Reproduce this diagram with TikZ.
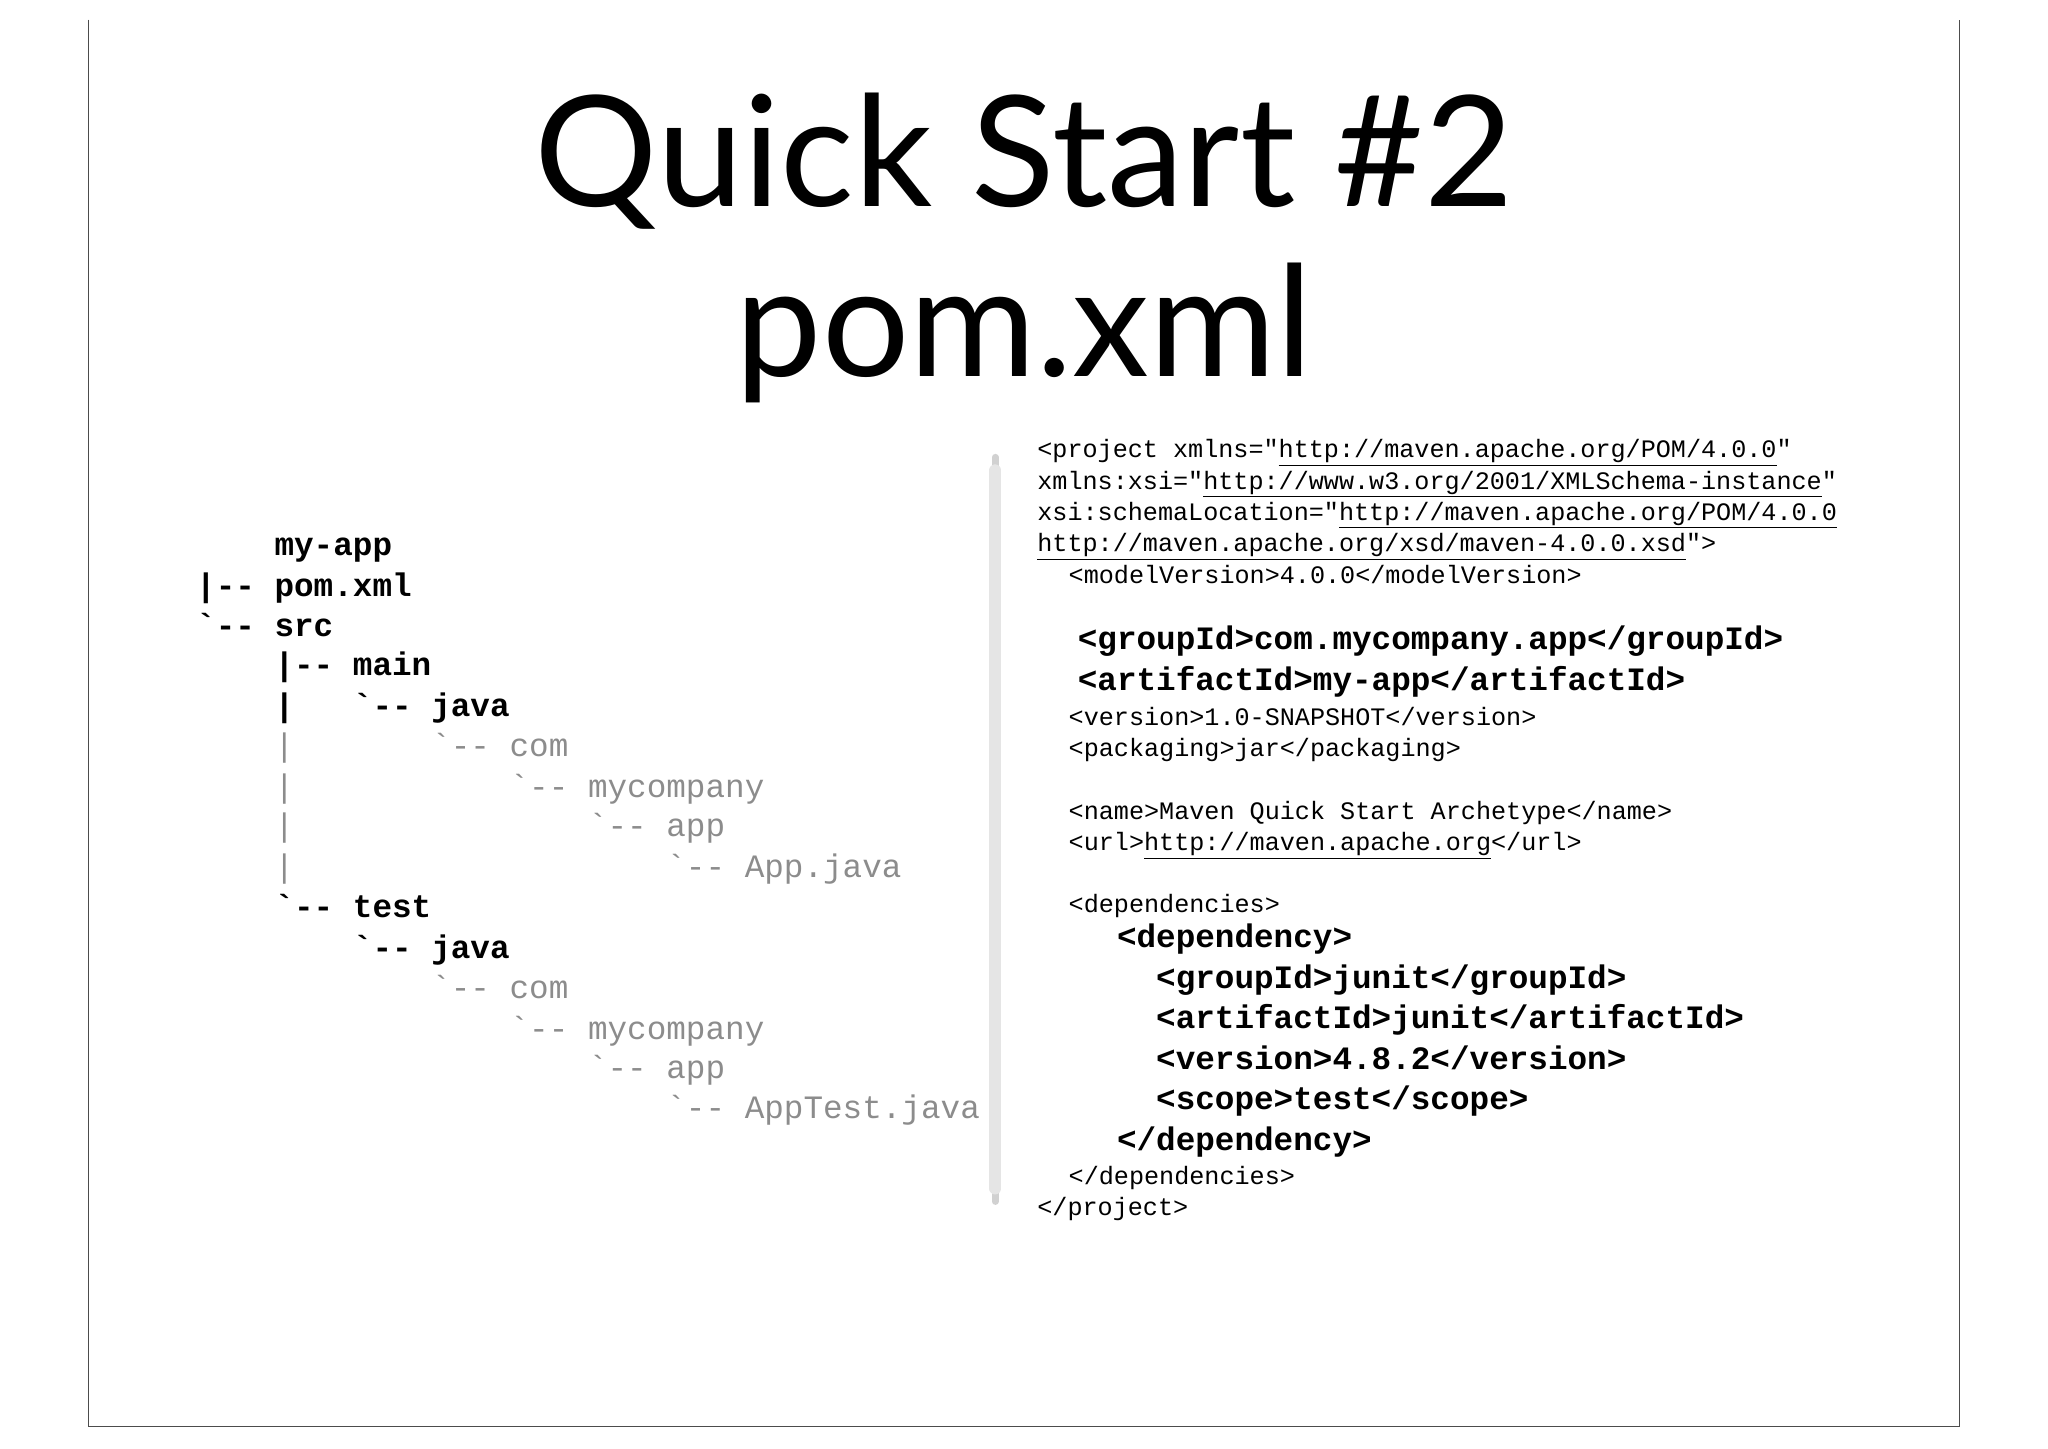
\documentclass[tikz,border=0pt]{standalone}
\usepackage{fontspec}
\setmainfont{Lato}
\newfontfamily\cour{Liberation Mono}
\newcommand{\bt}{\char96}
\newcommand{\ul}[1]{\underline{#1}}
\begin{document}
\begin{tikzpicture}[x=1pt,y=-1pt,
  tb/.style={anchor=mid west,inner sep=0pt,font=\cour\bfseries\fontsize{25}{25}\selectfont},
  tg/.style={anchor=mid west,inner sep=0pt,text=black!45,font=\cour\fontsize{25}{25}\selectfont},
  cs/.style={anchor=mid west,inner sep=0pt,font=\cour\fontsize{19.25}{19.25}\selectfont},
  cb/.style={anchor=mid west,inner sep=0pt,font=\cour\bfseries\fontsize{25}{25}\selectfont}]
\useasboundingbox (0,0) rectangle (1568,1108.7);
\draw[black!70,line width=1pt] (68,15) -- (68,1092) -- (1500,1092) -- (1500,15);
\node[font=\fontsize{118}{130}\selectfont,align=center,inner sep=0pt] (title) at (784,190) {Quick Start \#2\\pom.xml};
\draw[black!18,line width=5pt,line cap=round] (762,350) -- (762,920);
\draw[black!10,line width=9pt,line cap=round] (762,360) -- (762,910);
% tree
\def\cw{15}
\node[tb] (t1) at (210,423) {my-app};
\node[tb] (t2) at (150,454) {|-- pom.xml};
\node[tb] (t3) at (150,485) {\bt-- src};
\node[tb] (t4) at (210,515) {|-- main};
\node[tb] (t5a) at (210,546) {|};
\node[tb] (t5) at (270,546) {\bt-- java};
\node[tg] (t6a) at (210,577) {|};
\node[tg] (t6) at (330,577) {\bt-- com};
\node[tg] (t7a) at (210,608) {|};
\node[tg] (t7) at (390,608) {\bt-- mycompany};
\node[tg] (t8a) at (210,638) {|};
\node[tg] (t8) at (450,638) {\bt-- app};
\node[tg] (t9a) at (210,669) {|};
\node[tg] (t9) at (510,669) {\bt-- App.java};
\node[tb] (t10) at (210,700) {\bt-- test};
\node[tb] (t11) at (270,731) {\bt-- java};
\node[tg] (t12) at (330,762) {\bt-- com};
\node[tg] (t13) at (390,793) {\bt-- mycompany};
\node[tg] (t14) at (450,823) {\bt-- app};
\node[tg] (t15) at (510,854) {\bt-- AppTest.java};
% code
\node[cs] (c1) at (794,348) {<project xmlns="\ul{http://maven.apache.org/POM/4.0.0}"};
\node[cs] (c2) at (794,372) {xmlns:xsi="\ul{http://www.w3.org/2001/XMLSchema-instance}"};
\node[cs] (c3) at (794,396) {xsi:schemaLocation="\ul{http://maven.apache.org/POM/4.0.0}};
\node[cs] (c4) at (794,420) {\ul{http://maven.apache.org/xsd/maven-4.0.0.xsd}">};
\node[cs] (c5) at (818,444) {<modelVersion>4.0.0</modelVersion>};
\node[cb] (c6) at (825,495) {<groupId>com.mycompany.app</groupId>};
\node[cb] (c7) at (825,526) {<artifactId>my-app</artifactId>};
\node[cs] (c8) at (818,553) {<version>1.0-SNAPSHOT</version>};
\node[cs] (c9) at (818,577) {<packaging>jar</packaging>};
\node[cs] (c10) at (818,625) {<name>Maven Quick Start Archetype</name>};
\node[cs] (c11) at (818,649) {<url>\ul{http://maven.apache.org}</url>};
\node[cs] (c12) at (818,696) {<dependencies>};
\node[cb] (c13) at (855,723) {<dependency>};
\node[cb] (c14) at (885,754) {<groupId>junit</groupId>};
\node[cb] (c15) at (885,785) {<artifactId>junit</artifactId>};
\node[cb] (c16) at (885,816) {<version>4.8.2</version>};
\node[cb] (c17) at (885,847) {<scope>test</scope>};
\node[cb] (c18) at (855,878) {</dependency>};
\node[cs] (c19) at (818,904) {</dependencies>};
\node[cs] (c20) at (794,928) {</project>};
\end{tikzpicture}
\end{document}
